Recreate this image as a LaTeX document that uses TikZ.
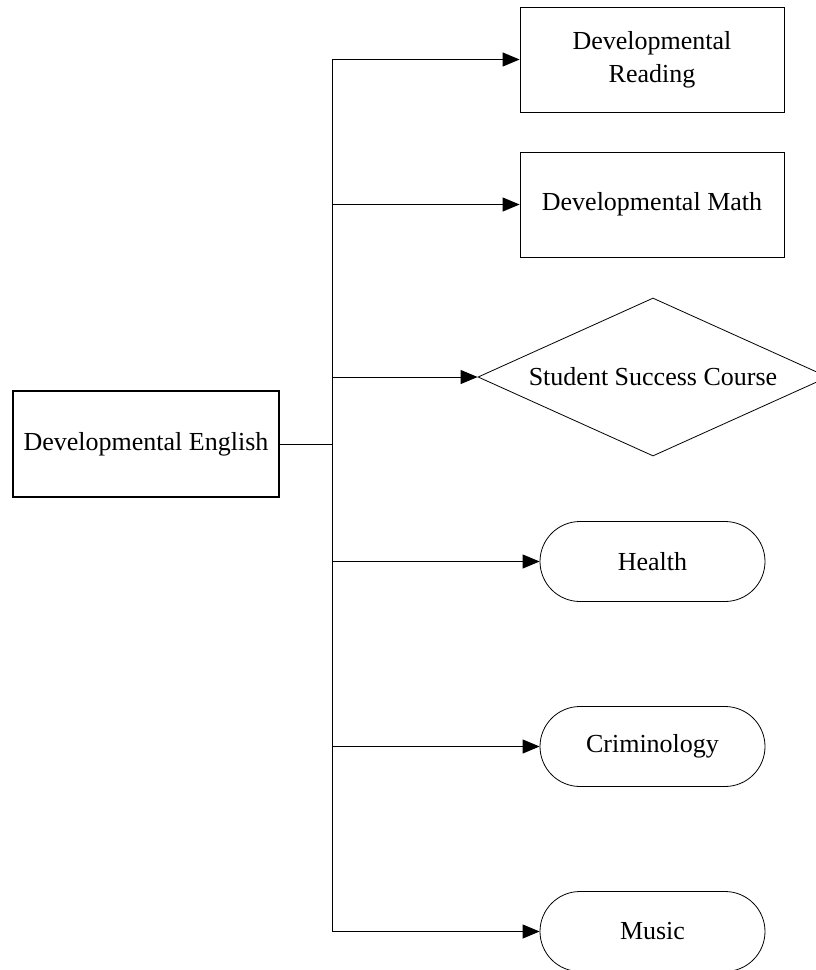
\documentclass[tikz,border=0pt]{standalone}
\usepackage{fontspec}
\setmainfont{Liberation Serif}
\usetikzlibrary{arrows.meta,shapes.geometric,shapes.misc}

\begin{document}
\begin{tikzpicture}[x=1pt,y=-1pt,
  every node/.style={font=\fontsize{26}{33}\selectfont},
  box/.style={draw, line width=0.8pt, rectangle, inner sep=0pt, align=center},
  pill/.style={draw, line width=0.8pt, rounded rectangle, inner sep=0pt,
    minimum width=225pt, minimum height=80pt},
  link/.style={line width=1pt, -{Triangle[length=17pt,width=14pt]}}
]
\useasboundingbox (0,0) rectangle (816,970);

% source course
\node[box, line width=1.6pt, minimum width=266pt, minimum height=106pt] (eng) at (146,444) {Developmental English};

% target courses
\node[box, minimum width=264pt, minimum height=105pt] (read) at (652,59.5) {Developmental\\Reading};
\node[box, minimum width=264pt, minimum height=105pt] (math) at (652,204.5) {Developmental Math};
\node[draw, line width=0.8pt, diamond, inner sep=0pt, minimum width=350pt, minimum height=158pt] (ssc) at (653,377) {};
\node at (ssc.center) {Student Success Course};
\node[pill] (health) at (652.5,561.5) {Health};
\node[pill] (crim) at (652.5,746.5) {Criminology};
\node[pill] (music) at (652.5,931.5) {Music};

% shared trunk
\coordinate (j) at (332,444);
\coordinate (top) at (332,59.5);
\coordinate (bot) at (332,931.5);
\draw[line width=1pt] (eng.east) -- (j);
\draw[line width=1pt] (top) -- (bot);

\draw[link] (top) -- (read.west);
\draw[link] (math.west -| j) -- (math.west);
\draw[link] (ssc.west -| j) -- (ssc.west);
\draw[link] (health.west -| j) -- (health.west);
\draw[link] (crim.west -| j) -- (crim.west);
\draw[link] (bot) -- (music.west);
\end{tikzpicture}
\end{document}
